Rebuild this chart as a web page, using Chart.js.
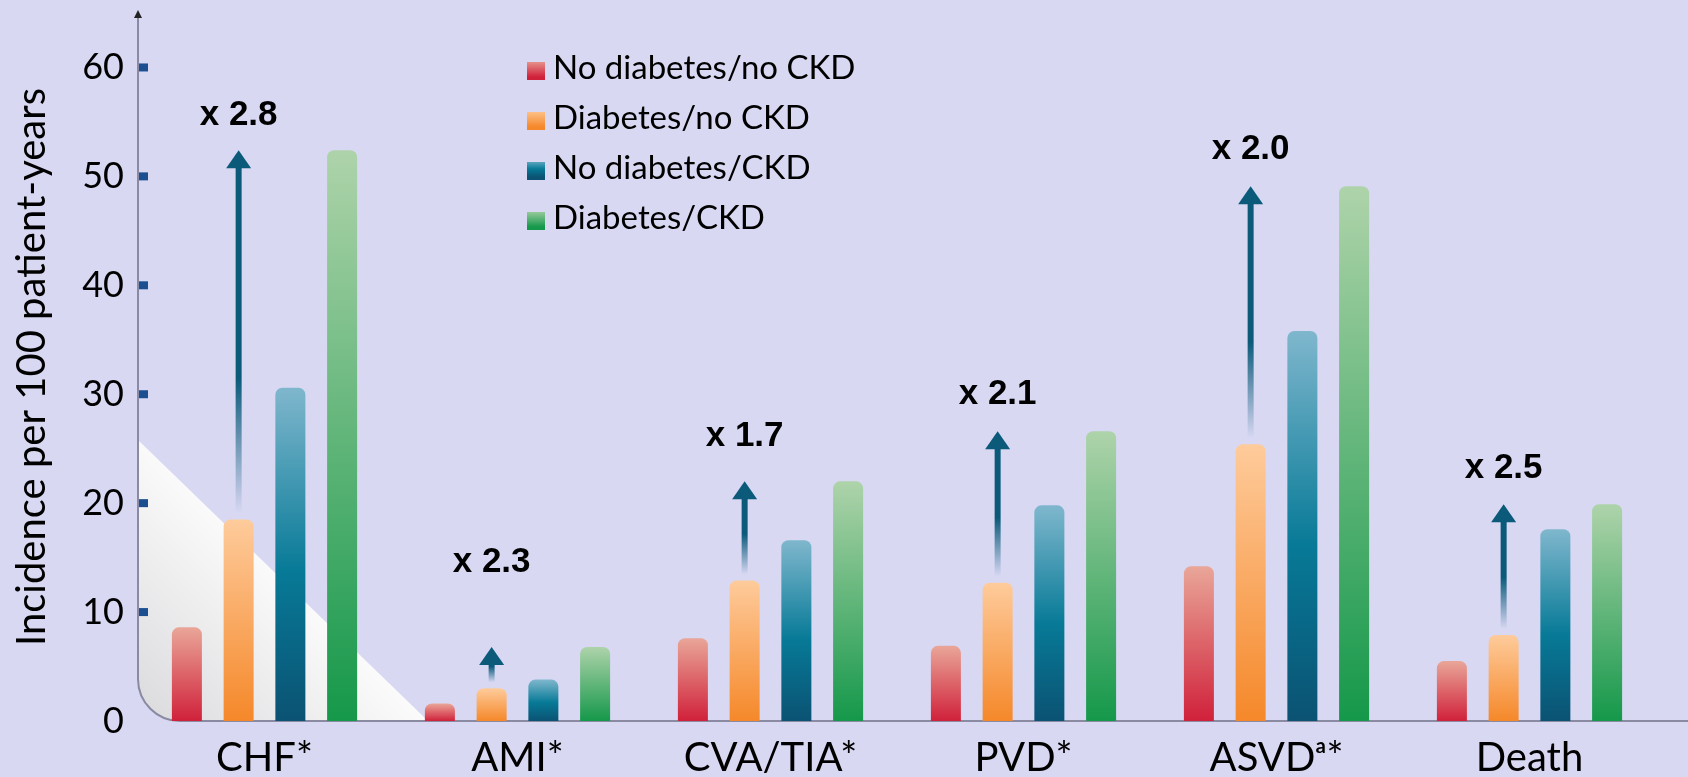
<!DOCTYPE html>
<html>
<head>
<meta charset="utf-8">
<script src="https://cdn.jsdelivr.net/npm/chart.js@4.4.1/dist/chart.umd.min.js"></script>
<style>
  html, body { margin: 0; padding: 0; background: #d8d8f3; }
  canvas { display: block; }
</style>
</head>
<body>
<canvas id="c" width="1688" height="777"></canvas>
<script>
// Incidence per 100 patient-years by diabetes / CKD status
const categories = ['CHF*', 'AMI*', 'CVA/TIA*', 'PVD*', 'ASVD\u1d43*', 'Death'];
const seriesNames = ['No diabetes/no CKD', 'Diabetes/no CKD', 'No diabetes/CKD', 'Diabetes/CKD'];
const noDiabetesNoCkd = [8.6, 1.6, 7.6, 6.9, 14.2, 5.5];
const diabetesNoCkd = [18.5, 3.0, 12.9, 12.7, 25.4, 7.9];
const noDiabetesCkd = [30.6, 3.8, 16.6, 19.8, 35.8, 17.6];
const diabetesCkd = [52.4, 6.8, 22.0, 26.6, 49.1, 19.9];
const multipliers = ['x 2.8', 'x 2.3', 'x 1.7', 'x 2.1', 'x 2.0', 'x 2.5'];
const yTicks = [0, 10, 20, 30, 40, 50, 60];

const BG = '#d8d8f3';
const FONT = 'Lato, "Open Sans", sans-serif';
const palettes = [
  [[0, '#e9a698'], [1, '#d0213a']],
  [[0, '#fecb9b'], [1, '#f5882a']],
  [[0, '#7fb7cd'], [0.55, '#077a97'], [1, '#0b5273']],
  [[0, '#aed3aa'], [1, '#15984a']]
];

function barFill(stops) {
  return (ctx) => {
    const chart = ctx.chart;
    if (!chart.chartArea || ctx.type !== 'data') return stops[stops.length - 1][1];
    const y = chart.scales.y;
    const top = y.getPixelForValue(ctx.parsed.y);
    const bottom = y.getPixelForValue(0);
    const g = chart.ctx.createLinearGradient(0, top, 0, bottom);
    stops.forEach(([o, c]) => g.addColorStop(o, c));
    return g;
  };
}

// Lavender page, white wedge in the lower-left corner
const backdrop = {
  id: 'backdrop',
  beforeDraw(chart) {
    const { ctx, chartArea: a, scales } = chart;
    ctx.save();
    ctx.fillStyle = BG;
    ctx.fillRect(0, 0, chart.width, chart.height);
    const r = 42;
    const topY = scales.y.getPixelForValue(25.8);
    const endX = a.left + 290;
    ctx.beginPath();
    ctx.moveTo(a.left, topY);
    ctx.lineTo(endX, a.bottom);
    ctx.lineTo(a.left + r, a.bottom);
    ctx.arcTo(a.left, a.bottom, a.left, a.bottom - r, r);
    ctx.closePath();
    const g = ctx.createLinearGradient(a.left, a.bottom, a.left + 150, a.bottom - 150);
    g.addColorStop(0, '#dadadd');
    g.addColorStop(1, '#fcfcfc');
    ctx.fillStyle = g;
    ctx.fill();
    ctx.restore();
  }
};

// Axis lines with a rounded corner, top arrowhead and square tick marks
const axes = {
  id: 'axes',
  beforeDatasetsDraw(chart) {
    const { ctx, chartArea: a, scales } = chart;
    const r = 42;
    ctx.save();
    ctx.strokeStyle = '#8a8aa2';
    ctx.lineWidth = 2;
    ctx.beginPath();
    ctx.moveTo(a.left, a.top + 2);
    ctx.lineTo(a.left, a.bottom - r);
    ctx.arcTo(a.left, a.bottom, a.left + r, a.bottom, r);
    ctx.lineTo(chart.width, a.bottom);
    ctx.stroke();
    ctx.fillStyle = '#222';
    ctx.beginPath();
    ctx.moveTo(a.left, a.top - 3);
    ctx.lineTo(a.left - 4, a.top + 5);
    ctx.lineTo(a.left + 4, a.top + 5);
    ctx.closePath();
    ctx.fill();
    ctx.fillStyle = '#1c4f90';
    scales.y.ticks.forEach(t => {
      if (t.value === 0) return;
      const y = scales.y.getPixelForValue(t.value);
      ctx.fillRect(a.left + 1, y - 4, 9, 8);
    });
    ctx.restore();
  }
};

// Rising arrows from the "Diabetes/no CKD" bar to the "Diabetes/CKD" level
const arrows = {
  id: 'arrows',
  afterDatasetsDraw(chart, args, opts) {
    const { ctx, scales } = chart;
    const orange = chart.getDatasetMeta(1).data;
    ctx.save();
    orange.forEach((bar, i) => {
      const x = bar.x;
      const tip = scales.y.getPixelForValue(diabetesCkd[i]);
      const tail = bar.y - 6;
      const headH = 18, headW = 25, shaft = 6;
      const len = tail - tip;
      const g = ctx.createLinearGradient(0, tail, 0, tip);
      g.addColorStop(0, 'rgba(11,90,122,0)');
      g.addColorStop(Math.min(0.45, 0.35 + 8 / Math.max(len, 1)), 'rgba(11,90,122,1)');
      g.addColorStop(1, 'rgba(11,90,122,1)');
      ctx.fillStyle = g;
      ctx.fillRect(x - shaft / 2, tip + headH - 1, shaft, tail - tip - headH + 1);
      ctx.fillStyle = '#0b5a7a';
      ctx.beginPath();
      ctx.moveTo(x, tip);
      ctx.lineTo(x - headW / 2, tip + headH);
      ctx.lineTo(x + headW / 2, tip + headH);
      ctx.closePath();
      ctx.fill();
      ctx.fillStyle = '#000';
      ctx.font = 'bold 35px "Liberation Sans", Arial, sans-serif';
      ctx.textAlign = 'center';
      ctx.textBaseline = 'middle';
      ctx.fillText(multipliers[i], x, tip - opts.labelGap[i]);
    });
    ctx.restore();
  }
};

// Legend drawn inside the plot area
const insetLegend = {
  id: 'insetLegend',
  afterDraw(chart, args, opts) {
    const { ctx } = chart;
    ctx.save();
    ctx.font = opts.font;
    ctx.textBaseline = 'middle';
    ctx.textAlign = 'left';
    chart.data.datasets.forEach((ds, i) => {
      const y = opts.y + i * opts.step;
      const s = 18;
      const g = ctx.createLinearGradient(0, y - s / 2, 0, y + s / 2);
      palettes[i].forEach(([o, c]) => g.addColorStop(o, c));
      ctx.fillStyle = g;
      ctx.fillRect(opts.x, y - s / 2 + 3, s, s);
      ctx.fillStyle = '#000';
      ctx.fillText(ds.label, opts.x + 26, y);
    });
    ctx.restore();
  }
};

const seriesValues = [noDiabetesNoCkd, diabetesNoCkd, noDiabetesCkd, diabetesCkd];

new Chart(document.getElementById('c'), {
  type: 'bar',
  data: {
    labels: categories,
    datasets: seriesValues.map((vals, i) => ({
      label: seriesNames[i],
      data: vals,
      backgroundColor: barFill(palettes[i]),
      borderRadius: 7,
      borderSkipped: 'start',
      categoryPercentage: 0.818,
      barPercentage: 0.58
    }))
  },
  options: {
    responsive: false,
    animation: false,
    devicePixelRatio: 1,
    layout: { padding: { left: 0, right: 32, top: 13, bottom: 0 } },
    plugins: {
      legend: { display: false },
      tooltip: { enabled: false },
      arrows: { labelGap: [35, 85, 45, 37, 37, 36] },
      insetLegend: { x: 527, y: 68, step: 50, font: '33px ' + FONT }
    },
    scales: {
      x: {
        grid: { display: false, drawTicks: false },
        border: { display: false },
        ticks: {
          color: '#000',
          padding: 13,
          font: { family: FONT, size: 40 }
        },
        afterFit(scale) {
          scale.height = 56;
          scale.paddingLeft = 0;
          scale.paddingRight = 0;
        }
      },
      y: {
        min: 0,
        max: 65,
        grid: { display: false, drawTicks: false },
        border: { display: false },
        afterBuildTicks(scale) { scale.ticks = yTicks.map(v => ({ value: v })); },
        ticks: {
          color: '#000',
          padding: 14,
          font: { family: FONT, size: 36 }
        },
        title: {
          display: true,
          text: 'Incidence per 100 patient-years',
          color: '#000',
          padding: { top: 8, bottom: 0 },
          font: { family: FONT, size: 40 }
        },
        afterFit(scale) {
          scale.width = 138;
          scale.paddingTop = 0;
          scale.paddingBottom = 0;
        }
      }
    }
  },
  plugins: [backdrop, axes, arrows, insetLegend]
});
</script>
</body>
</html>
